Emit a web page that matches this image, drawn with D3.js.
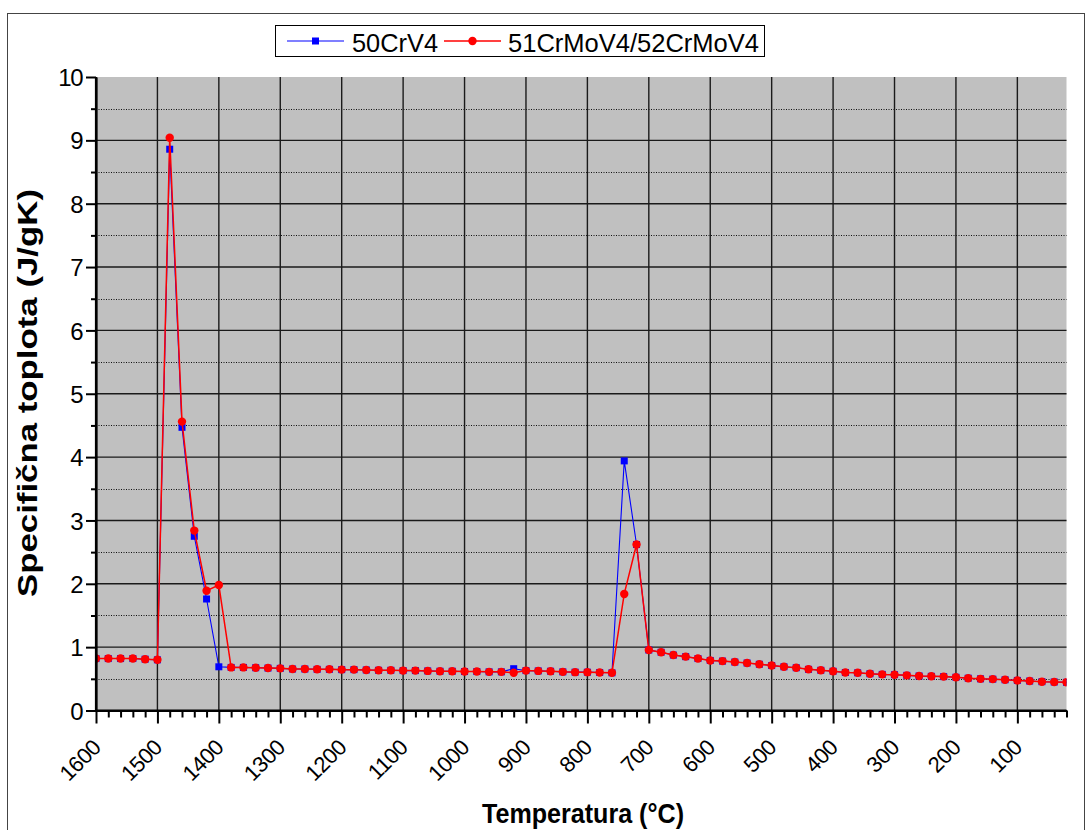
<!DOCTYPE html>
<html>
<head>
<meta charset="utf-8">
<script src="https://cdn.jsdelivr.net/npm/d3@7"></script>
<style>
  body { margin: 0; background: #fff; }
  svg { display: block; }
  text { font-family: "Liberation Sans", Arial, sans-serif; fill: #000; }
</style>
</head>
<body>
<svg id="chart" width="1088" height="830"></svg>
<script>
// Temperature steps (°C), cooling from 1600 down to 20
const temperatures = [
  1600, 1580, 1560, 1540, 1520, 1500, 1480, 1460, 1440, 1420,
  1400, 1380, 1360, 1340, 1320, 1300, 1280, 1260, 1240, 1220,
  1200, 1180, 1160, 1140, 1120, 1100, 1080, 1060, 1040, 1020,
  1000,  980,  960,  940,  920,  900,  880,  860,  840,  820,
   800,  780,  760,  740,  720,  700,  680,  660,  640,  620,
   600,  580,  560,  540,  520,  500,  480,  460,  440,  420,
   400,  380,  360,  340,  320,  300,  280,  260,  240,  220,
   200,  180,  160,  140,  120,  100,   80,   60,   40,   20
];

// Specific heat (J/gK), steel 50CrV4
const cp50CrV4 = [
  0.82, 0.82, 0.82, 0.82, 0.81, 0.80, 8.86, 4.47, 2.75, 1.76,
  0.69, 0.68, 0.68, 0.675, 0.67, 0.665, 0.655, 0.655, 0.65, 0.65,
  0.645, 0.645, 0.64, 0.635, 0.635, 0.63, 0.63, 0.625, 0.62, 0.62,
  0.615, 0.615, 0.61, 0.61, 0.66, 0.63, 0.625, 0.62, 0.61, 0.605,
  0.605, 0.60, 0.595, 3.94, 2.62, 0.955, 0.92, 0.875, 0.85, 0.82,
  0.79, 0.78, 0.765, 0.75, 0.73, 0.71, 0.69, 0.675, 0.65, 0.635,
  0.62, 0.60, 0.595, 0.58, 0.57, 0.565, 0.555, 0.545, 0.54, 0.535,
  0.525, 0.51, 0.50, 0.495, 0.485, 0.475, 0.465, 0.455, 0.45, 0.445
];

// Specific heat (J/gK), steels 51CrMoV4 / 52CrMoV4
const cp51CrMoV4 = [
  0.82, 0.82, 0.82, 0.82, 0.81, 0.80, 9.04, 4.56, 2.84, 1.89,
  1.98, 0.68, 0.68, 0.675, 0.67, 0.665, 0.655, 0.655, 0.65, 0.65,
  0.645, 0.645, 0.64, 0.635, 0.635, 0.63, 0.63, 0.625, 0.62, 0.62,
  0.615, 0.615, 0.61, 0.61, 0.595, 0.63, 0.625, 0.62, 0.61, 0.605,
  0.605, 0.60, 0.595, 1.84, 2.62, 0.955, 0.92, 0.875, 0.85, 0.82,
  0.79, 0.78, 0.765, 0.75, 0.73, 0.71, 0.69, 0.675, 0.65, 0.635,
  0.62, 0.60, 0.595, 0.58, 0.57, 0.565, 0.555, 0.545, 0.54, 0.535,
  0.525, 0.51, 0.50, 0.495, 0.485, 0.475, 0.465, 0.455, 0.45, 0.445
];

const seriesNames = ["50CrV4", "51CrMoV4/52CrMoV4"];
const seriesColors = ["#0000ff", "#ff0000"];

const xTickValues = [1600, 1500, 1400, 1300, 1200, 1100, 1000, 900, 800, 700, 600, 500, 400, 300, 200, 100];
const xMinorTickValues = [
  1580, 1560, 1540, 1520, 1480, 1460, 1440, 1420, 1380, 1360, 1340, 1320,
  1280, 1260, 1240, 1220, 1180, 1160, 1140, 1120, 1080, 1060, 1040, 1020,
  980, 960, 940, 920, 880, 860, 840, 820, 780, 760, 740, 720,
  680, 660, 640, 620, 580, 560, 540, 520, 480, 460, 440, 420,
  380, 360, 340, 320, 280, 260, 240, 220, 180, 160, 140, 120,
  80, 60, 40, 20
];
const yTickValues = [0, 1, 2, 3, 4, 5, 6, 7, 8, 9, 10];
const yMinorTickValues = [0.5, 1.5, 2.5, 3.5, 4.5, 5.5, 6.5, 7.5, 8.5, 9.5];

const xTitle = "Temperatura (°C)";
const yTitle = "Specifična toplota (J/gK)";

const svg = d3.select("#chart");
const plot = { left: 96, right: 1066.5, top: 77, bottom: 710.5 };

const x = d3.scaleLinear().domain([1600, 20]).range([plot.left, plot.right]);
const y = d3.scaleLinear().domain([0, 10]).range([plot.bottom, plot.top]);

// outer frame
svg.append("rect")
  .attr("x", 7.5).attr("y", 13.5)
  .attr("width", 1077).attr("height", 840)
  .attr("fill", "none").attr("stroke", "#444").attr("stroke-width", 1);

// plot background
svg.append("rect")
  .attr("x", plot.left).attr("y", plot.top)
  .attr("width", plot.right - plot.left).attr("height", plot.bottom - plot.top)
  .attr("fill", "#c0c0c0");

// dotted minor horizontal grid
svg.append("g").selectAll("line")
  .data(yMinorTickValues).join("line")
  .attr("x1", plot.left).attr("x2", plot.right)
  .attr("y1", d => Math.round(y(d)) + 0.5).attr("y2", d => Math.round(y(d)) + 0.5)
  .attr("stroke", "#111").attr("stroke-width", 1).attr("stroke-dasharray", "1,1.5");

// solid major grid
svg.append("g").selectAll("line")
  .data(yTickValues.filter(v => v > 0 && v < 10)).join("line")
  .attr("x1", plot.left).attr("x2", plot.right)
  .attr("y1", d => y(d)).attr("y2", d => y(d))
  .attr("stroke", "#1a1a1a").attr("stroke-width", 1.4);

svg.append("g").selectAll("line")
  .data(xTickValues.filter(v => v < 1600)).join("line")
  .attr("x1", d => x(d)).attr("x2", d => x(d))
  .attr("y1", plot.top).attr("y2", plot.bottom)
  .attr("stroke", "#1a1a1a").attr("stroke-width", 1.4);

// data series
svg.append("defs").append("clipPath").attr("id", "plotClip")
  .append("rect")
  .attr("x", plot.left).attr("y", plot.top - 10)
  .attr("width", plot.right - plot.left).attr("height", plot.bottom - plot.top + 10);

const series = [cp50CrV4, cp51CrMoV4].map((vals, i) => ({
  name: seriesNames[i],
  color: seriesColors[i],
  points: temperatures.map((t, j) => ({ t, v: vals[j] }))
}));

const line = d3.line().x(d => x(d.t)).y(d => y(d.v));
const dataG = svg.append("g").attr("clip-path", "url(#plotClip)");

// 50CrV4: thin blue line with square markers
dataG.append("path")
  .datum(series[0].points)
  .attr("d", line)
  .attr("fill", "none").attr("stroke", series[0].color).attr("stroke-width", 1.1);
dataG.append("g").selectAll("rect")
  .data(series[0].points).join("rect")
  .attr("x", d => x(d.t) - 3.5).attr("y", d => y(d.v) - 3.5)
  .attr("width", 7).attr("height", 7)
  .attr("fill", series[0].color);

// 51CrMoV4/52CrMoV4: red line with round markers, drawn on top
dataG.append("path")
  .datum(series[1].points)
  .attr("d", line)
  .attr("fill", "none").attr("stroke", series[1].color).attr("stroke-width", 1.5);
dataG.append("g").selectAll("circle")
  .data(series[1].points).join("circle")
  .attr("cx", d => x(d.t)).attr("cy", d => y(d.v))
  .attr("r", 4.2)
  .attr("fill", series[1].color);

// axes
const styleAxis = g => {
  g.select(".domain").attr("stroke", "#000").attr("stroke-width", 2.2);
  g.selectAll(".tick line").attr("stroke", "#000").attr("stroke-width", 2);
};

const yAxis = svg.append("g")
  .attr("transform", `translate(${plot.left},0)`)
  .call(d3.axisLeft(y).tickValues(yTickValues).tickSize(10).tickSizeOuter(0).tickPadding(4).tickFormat(d3.format("d")))
  .call(styleAxis);
yAxis.selectAll("text")
  .attr("font-size", 24).attr("letter-spacing", "-1.5px")
  .attr("font-family", "'Liberation Sans', Arial, sans-serif")
  .attr("dy", "0.36em");

svg.append("g")
  .attr("transform", `translate(${plot.left},0)`)
  .call(d3.axisLeft(y).tickValues(yMinorTickValues).tickSize(5).tickSizeOuter(0).tickFormat(""))
  .call(styleAxis)
  .select(".domain").remove();

const xAxis = svg.append("g")
  .attr("transform", `translate(0,${plot.bottom})`)
  .call(d3.axisBottom(x).tickValues(xTickValues).tickSize(13).tickSizeOuter(0).tickFormat(d3.format("d")))
  .call(styleAxis);
xAxis.selectAll("text")
  .attr("font-size", 22).attr("letter-spacing", "-0.5px")
  .attr("font-family", "'Liberation Sans', Arial, sans-serif")
  .attr("text-anchor", "end")
  .attr("x", 5.5).attr("y", 38.5).attr("dy", 0)
  .attr("transform", "rotate(-45, 5.5, 38.5)");

svg.append("g")
  .attr("transform", `translate(0,${plot.bottom})`)
  .call(d3.axisBottom(x).tickValues(xMinorTickValues).tickSize(7).tickSizeOuter(0).tickFormat(""))
  .call(styleAxis)
  .select(".domain").remove();

// redraw axis lines on top of the grid
svg.append("line")
  .attr("x1", plot.left).attr("x2", plot.left)
  .attr("y1", plot.top).attr("y2", plot.bottom + 1)
  .attr("stroke", "#000").attr("stroke-width", 2.2);
svg.append("line")
  .attr("x1", plot.left - 1).attr("x2", plot.right)
  .attr("y1", plot.bottom).attr("y2", plot.bottom)
  .attr("stroke", "#000").attr("stroke-width", 2.2);

// axis titles
svg.append("text")
  .attr("x", 583).attr("y", 823)
  .attr("text-anchor", "middle")
  .attr("font-size", 27).attr("font-weight", "bold")
  .attr("textLength", 202).attr("lengthAdjust", "spacingAndGlyphs")
  .text(xTitle);

svg.append("text")
  .attr("transform", "translate(37,393) rotate(-90)")
  .attr("text-anchor", "middle")
  .attr("font-size", 27).attr("font-weight", "bold")
  .attr("textLength", 408).attr("lengthAdjust", "spacingAndGlyphs")
  .text(yTitle);

// legend
const legend = svg.append("g");
legend.append("rect")
  .attr("x", 275.5).attr("y", 25.5).attr("width", 489).attr("height", 31)
  .attr("fill", "#fff").attr("stroke", "#000").attr("stroke-width", 1);

const legendItems = [
  { lineX: [287, 344], textX: 352, textLen: 86 },
  { lineX: [444, 501], textX: 508, textLen: 251 }
];
const ly = 41;
legendItems.forEach((it, i) => {
  const s = series[i];
  legend.append("line")
    .attr("x1", it.lineX[0]).attr("x2", it.lineX[1])
    .attr("y1", ly).attr("y2", ly)
    .attr("stroke", s.color).attr("stroke-width", i === 0 ? 1.1 : 1.5);
  const mx = (it.lineX[0] + it.lineX[1]) / 2;
  if (i === 0) {
    legend.append("rect").attr("x", mx - 3.5).attr("y", ly - 3.5)
      .attr("width", 7).attr("height", 7).attr("fill", s.color);
  } else {
    legend.append("circle").attr("cx", mx).attr("cy", ly).attr("r", 4.2).attr("fill", s.color);
  }
  legend.append("text")
    .attr("x", it.textX).attr("y", 52)
    .attr("font-size", 26)
    .attr("textLength", it.textLen).attr("lengthAdjust", "spacingAndGlyphs")
    .text(s.name);
});
</script>
</body>
</html>
